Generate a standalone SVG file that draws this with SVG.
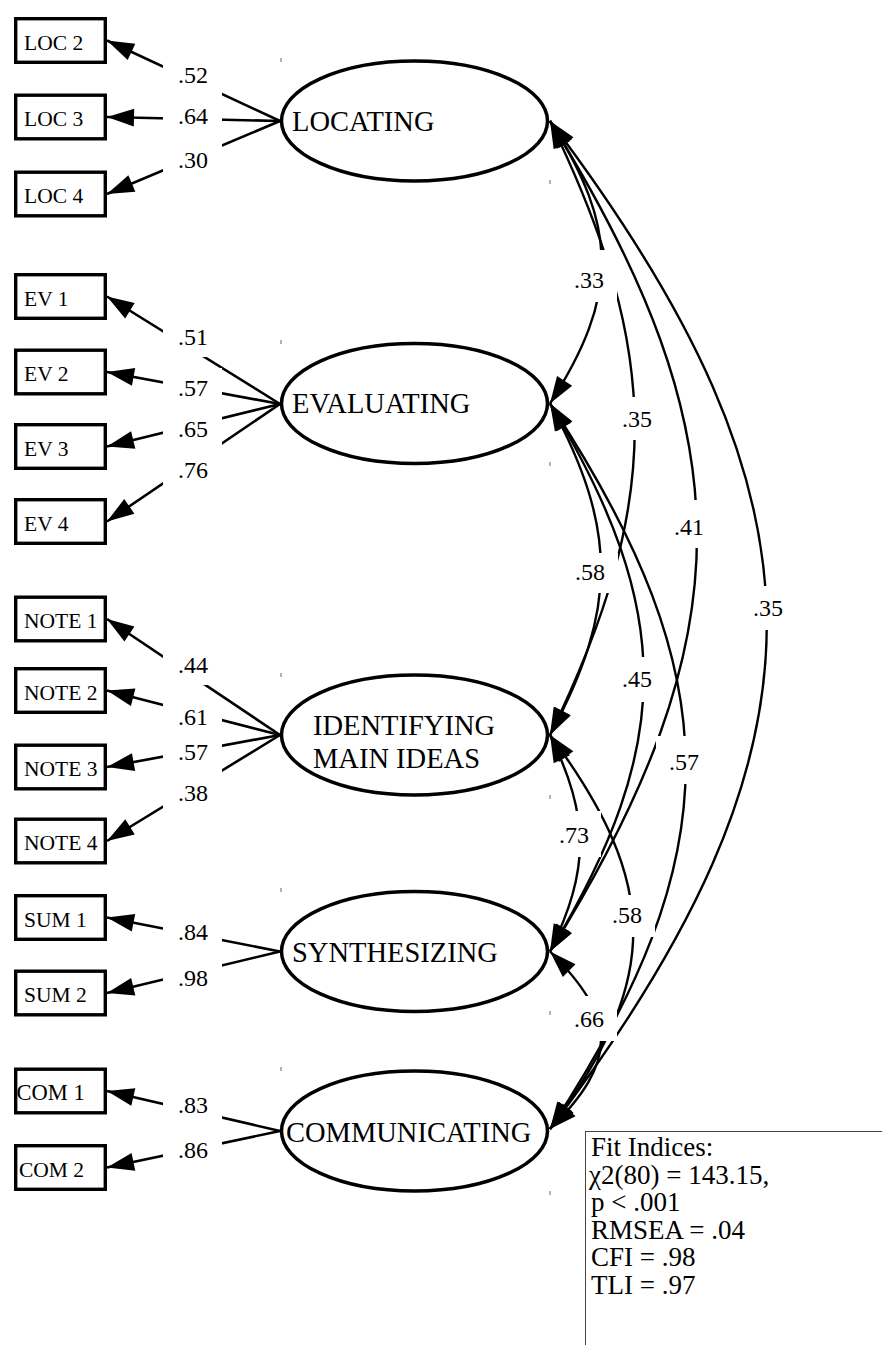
<svg xmlns="http://www.w3.org/2000/svg" width="882" height="1345" viewBox="0 0 882 1345">
<defs>
<style>
.box{fill:#fff;stroke:#000;stroke-width:3.4}
.lat{fill:#fff;stroke:#000;stroke-width:3.5}
.bt{font-family:"Liberation Serif","Times New Roman",serif;font-size:21.5px;fill:#000}
.lt{font-family:"Liberation Serif","Times New Roman",serif;font-size:28.5px;fill:#000}
.ld{fill:none;stroke:#000;stroke-width:2.6;marker-end:url(#ah)}
.cv{fill:none;stroke:#000;stroke-width:2.4;marker-start:url(#ah);marker-end:url(#ah)}
.lb{fill:#fff;stroke:none}
.nt{font-family:"Liberation Serif","Times New Roman",serif;font-size:24px;fill:#000;text-anchor:middle}
.tick{stroke:#666;stroke-width:1}
.fit{fill:#fff;stroke:#444;stroke-width:1}
.ft{font-family:"Liberation Serif","Times New Roman",serif;font-size:27px;fill:#000}
</style>
<marker id="ah" viewBox="-29 -10 30 20" refX="0" refY="0" markerWidth="30" markerHeight="20" markerUnits="userSpaceOnUse" orient="auto-start-reverse">
<path d="M0,0 L-27,-9 L-27,9 Z" fill="#000"/>
</marker>
</defs>
<rect width="882" height="1345" fill="#fff"/>

<g id="connectors">
<g id="loadings">
<line class="ld" x1="280" y1="121" x2="107" y2="40.5"/>
<line class="ld" x1="280" y1="121" x2="107" y2="117"/>
<line class="ld" x1="280" y1="121" x2="107" y2="194"/>
<line class="ld" x1="280" y1="404" x2="107" y2="296.5"/>
<line class="ld" x1="280" y1="404" x2="107" y2="372"/>
<line class="ld" x1="280" y1="404" x2="107" y2="446.5"/>
<line class="ld" x1="280" y1="404" x2="107" y2="521.5"/>
<line class="ld" x1="280" y1="735" x2="107" y2="619"/>
<line class="ld" x1="280" y1="735" x2="107" y2="690.5"/>
<line class="ld" x1="280" y1="735" x2="107" y2="767"/>
<line class="ld" x1="280" y1="735" x2="107" y2="841"/>
<line class="ld" x1="280" y1="951.5" x2="107" y2="917.5"/>
<line class="ld" x1="280" y1="951.5" x2="107" y2="993"/>
<line class="ld" x1="280" y1="1131" x2="107" y2="1091"/>
<line class="ld" x1="280" y1="1131" x2="107" y2="1167.5"/>
</g>
<g id="covariances">
<path class="cv" d="M550,121 C619,228.4 619,296.1 550,403.5"/>
<path class="cv" d="M550,121 C663,354 663,502 550,735"/>
<path class="cv" d="M550,121 C746,436.6 746,635.9 550,951.5"/>
<path class="cv" d="M550,121 C839,504 839,746 550,1129"/>
<path class="cv" d="M550,403.5 C618,529.5 618,609 550,735"/>
<path class="cv" d="M550,403.5 C675,611.5 675,743.5 550,951.5"/>
<path class="cv" d="M550,403.5 C731,679.2 731,853.3 550,1129"/>
<path class="cv" d="M550,735 C590,817.3 590,869.2 550,951.5"/>
<path class="cv" d="M550,735 C661,884.7 661,979.3 550,1129"/>
<path class="cv" d="M550,951.5 C618,1019 618,1061.5 550,1129"/>
</g>
<g id="label-backgrounds">
<rect class="lb" x="163" y="53" width="59" height="129"/>
<rect class="lb" x="163" y="315" width="59" height="42"/>
<rect class="lb" x="163" y="368" width="59" height="120"/>
<rect class="lb" x="163" y="645" width="59" height="40"/>
<rect class="lb" x="163" y="700" width="59" height="110"/>
<rect class="lb" x="163" y="910" width="59" height="88"/>
<rect class="lb" x="163" y="1085" width="59" height="87"/>
<rect class="lb" x="561" y="250" width="56" height="52"/>
<rect class="lb" x="609" y="397" width="56" height="43"/>
<rect class="lb" x="661" y="500" width="56" height="48"/>
<rect class="lb" x="562" y="553" width="56" height="40"/>
<rect class="lb" x="740" y="586" width="56" height="44"/>
<rect class="lb" x="609" y="657" width="56" height="45"/>
<rect class="lb" x="656" y="736" width="56" height="48"/>
<rect class="lb" x="547" y="811" width="54" height="46"/>
<rect class="lb" x="599" y="895" width="56" height="42"/>
<rect class="lb" x="561" y="996" width="56" height="45"/>
</g>
<g id="labels">
<text class="nt" x="193" y="83">.52</text>
<text class="nt" x="193" y="124">.64</text>
<text class="nt" x="193" y="168">.30</text>
<text class="nt" x="193" y="345">.51</text>
<text class="nt" x="193" y="396">.57</text>
<text class="nt" x="193" y="437">.65</text>
<text class="nt" x="193" y="478">.76</text>
<text class="nt" x="193" y="673">.44</text>
<text class="nt" x="193" y="725">.61</text>
<text class="nt" x="193" y="760">.57</text>
<text class="nt" x="193" y="801">.38</text>
<text class="nt" x="193" y="940">.84</text>
<text class="nt" x="193" y="986">.98</text>
<text class="nt" x="193" y="1113">.83</text>
<text class="nt" x="193" y="1158">.86</text>
<text class="nt" x="589" y="288">.33</text>
<text class="nt" x="637" y="427">.35</text>
<text class="nt" x="689" y="535">.41</text>
<text class="nt" x="590" y="580">.58</text>
<text class="nt" x="768" y="616">.35</text>
<text class="nt" x="637" y="687">.45</text>
<text class="nt" x="684" y="770">.57</text>
<text class="nt" x="574" y="843">.73</text>
<text class="nt" x="627" y="923">.58</text>
<text class="nt" x="589" y="1027">.66</text>
</g>
</g>

<g id="loc2"><rect class="box" x="15.7" y="18.7" width="89.6" height="43.6"/><text class="bt" x="24" y="49.5">LOC 2</text></g>
<g id="loc3"><rect class="box" x="15.7" y="95.2" width="89.6" height="43.6"/><text class="bt" x="24" y="126">LOC 3</text></g>
<g id="loc4"><rect class="box" x="15.7" y="172.2" width="89.6" height="43.6"/><text class="bt" x="24" y="203">LOC 4</text></g>
<g id="ev1"><rect class="box" x="15.7" y="274.7" width="89.6" height="43.6"/><text class="bt" x="24" y="305.5">EV 1</text></g>
<g id="ev2"><rect class="box" x="15.7" y="350.2" width="89.6" height="43.6"/><text class="bt" x="24" y="381">EV 2</text></g>
<g id="ev3"><rect class="box" x="15.7" y="424.7" width="89.6" height="43.6"/><text class="bt" x="24" y="455.5">EV 3</text></g>
<g id="ev4"><rect class="box" x="15.7" y="499.7" width="89.6" height="43.6"/><text class="bt" x="24" y="530.5">EV 4</text></g>
<g id="note1"><rect class="box" x="15.7" y="597.2" width="89.6" height="43.6"/><text class="bt" x="24" y="628">NOTE 1</text></g>
<g id="note2"><rect class="box" x="15.7" y="668.7" width="89.6" height="43.6"/><text class="bt" x="24" y="699.5">NOTE 2</text></g>
<g id="note3"><rect class="box" x="15.7" y="745.2" width="89.6" height="43.6"/><text class="bt" x="24" y="776">NOTE 3</text></g>
<g id="note4"><rect class="box" x="15.7" y="819.2" width="89.6" height="43.6"/><text class="bt" x="24" y="850">NOTE 4</text></g>
<g id="sum1"><rect class="box" x="15.7" y="895.7" width="89.6" height="43.6"/><text class="bt" x="24" y="926.5">SUM 1</text></g>
<g id="sum2"><rect class="box" x="15.7" y="971.2" width="89.6" height="43.6"/><text class="bt" x="24" y="1002">SUM 2</text></g>
<g id="com1"><rect class="box" x="15.7" y="1069.2" width="89.6" height="43.6"/><text class="bt" x="16.5" y="1100" style="font-size:22.5px">COM 1</text></g>
<g id="com2"><rect class="box" x="15.7" y="1145.7" width="89.6" height="43.6"/><text class="bt" x="19" y="1176.5">COM 2</text></g>

<g id="locating"><ellipse class="lat" cx="414.5" cy="121" rx="133" ry="60"/><text class="lt" x="292" y="131">LOCATING</text><line class="tick" x1="281" y1="58" x2="281" y2="62"/><line class="tick" x1="550" y1="180" x2="550" y2="184"/></g>
<g id="evaluating"><ellipse class="lat" cx="414.5" cy="403.5" rx="133" ry="60"/><text class="lt" x="292" y="413">EVALUATING</text><line class="tick" x1="281" y1="340" x2="281" y2="344"/><line class="tick" x1="550" y1="462" x2="550" y2="466"/></g>
<g id="identifying"><ellipse class="lat" cx="414.5" cy="735" rx="133" ry="60"/><text class="lt" x="313" y="735"><tspan x="313" y="735">IDENTIFYING</tspan><tspan x="313" y="768">MAIN IDEAS</tspan></text><line class="tick" x1="281" y1="673" x2="281" y2="677"/><line class="tick" x1="550" y1="795" x2="550" y2="799"/></g>
<g id="synthesizing"><ellipse class="lat" cx="414.5" cy="951.5" rx="133" ry="60"/><text class="lt" x="292" y="962">SYNTHESIZING</text><line class="tick" x1="281" y1="888" x2="281" y2="892"/><line class="tick" x1="550" y1="1011" x2="550" y2="1015"/></g>
<g id="communicating"><ellipse class="lat" cx="414.5" cy="1131" rx="133" ry="60"/><text class="lt" x="286" y="1142">COMMUNICATING</text><line class="tick" x1="281" y1="1067" x2="281" y2="1071"/><line class="tick" x1="550" y1="1191" x2="550" y2="1195"/></g>

<g id="fit-indices">
<rect class="fit" x="585.5" y="1131.5" width="320" height="240"/>
<text class="ft" x="591" y="1156"><tspan x="591" y="1156">Fit Indices:</tspan><tspan x="589" y="1183.5">χ2(80) = 143.15,</tspan><tspan x="591" y="1211">p &lt; .001</tspan><tspan x="591" y="1238.5">RMSEA = .04</tspan><tspan x="591" y="1266">CFI = .98</tspan><tspan x="591" y="1293.5">TLI = .97</tspan></text>
</g>
</svg>
